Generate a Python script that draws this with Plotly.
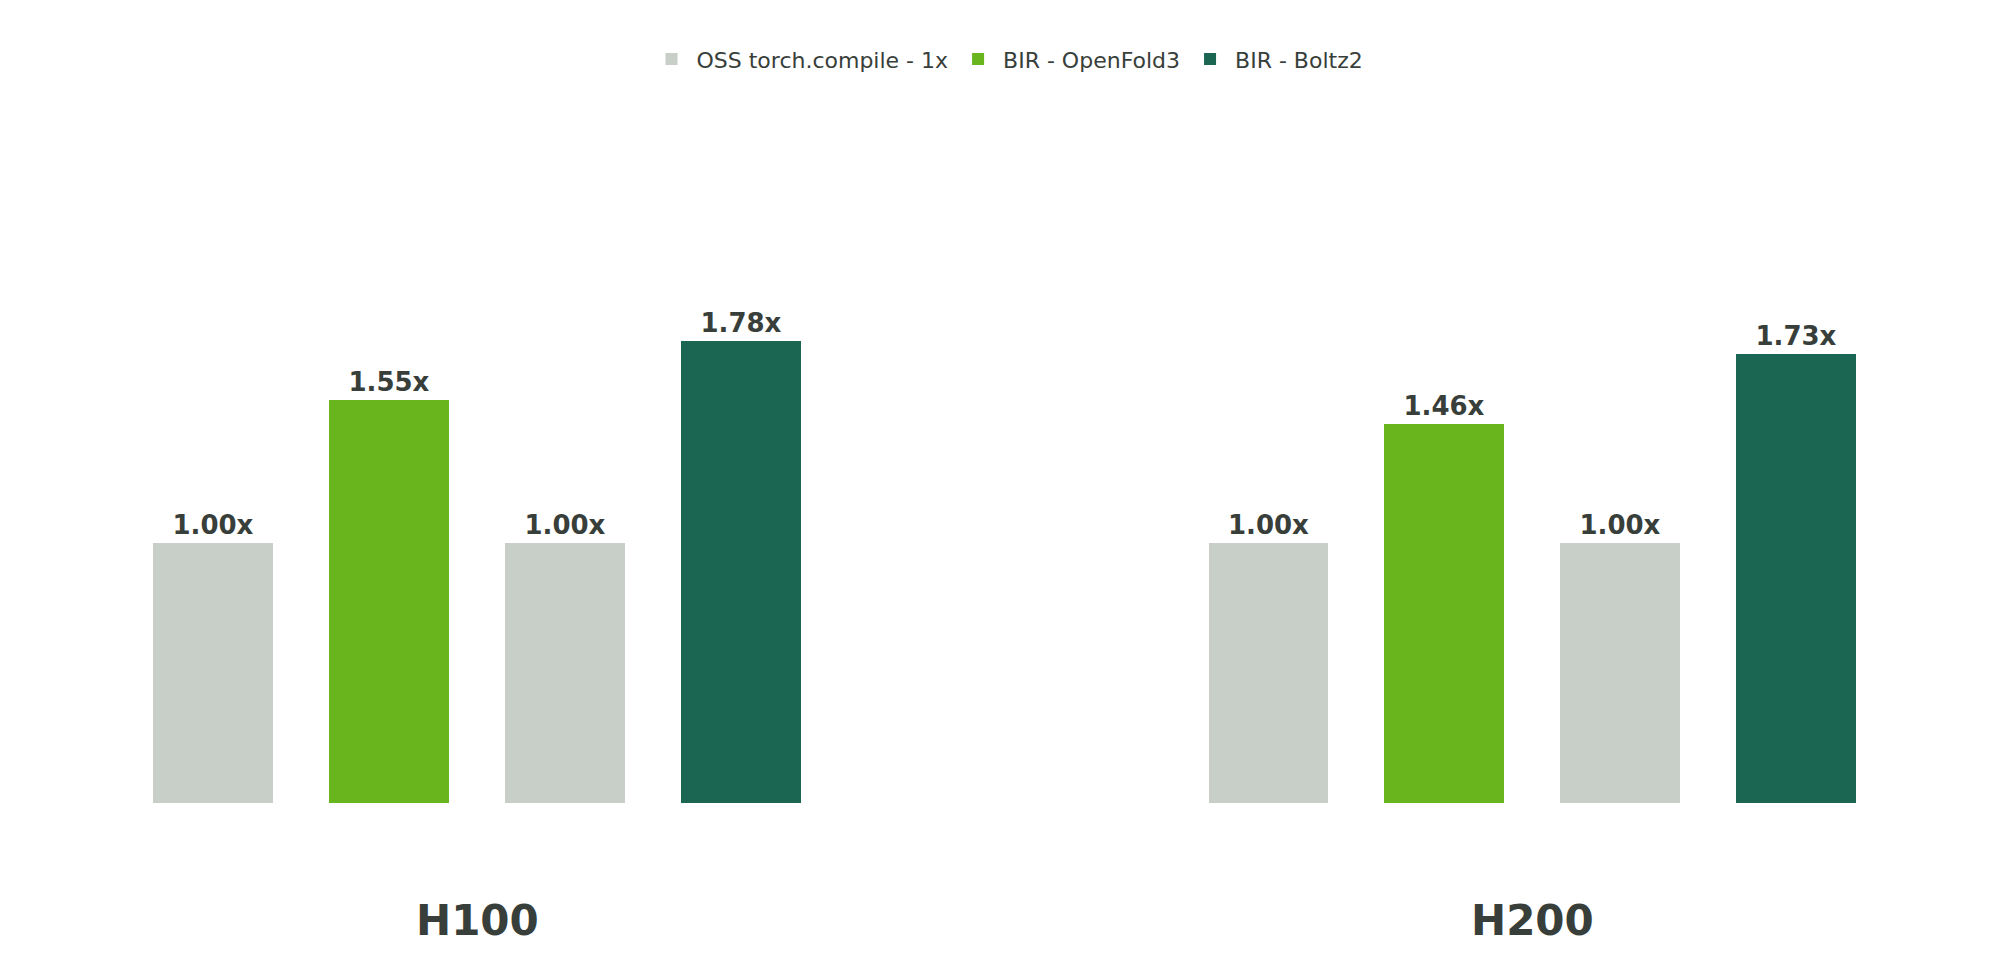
import plotly.graph_objects as go

gpus = ["H100", "H200"]
series = ["OSS torch.compile - 1x", "BIR - OpenFold3", "BIR - Boltz2"]
baseline = [1.00, 1.00, 1.00, 1.00]   # two baseline bars per GPU
openfold3 = [1.55, 1.46]
boltz2 = [1.78, 1.73]

colors = ["#c8cfc8", "#69b51e", "#1b6652"]
txt = "#383e3a"

# slot positions: 4 bars per gpu, gap of 2 slots between groups
base_x = [0, 2, 6, 8]
of3_x = [1, 7]
boltz_x = [3, 9]
group_center = [1.5, 7.5]

fig = go.Figure()
for name, xs, ys, c in [(series[0], base_x, baseline, colors[0]),
                        (series[1], of3_x, openfold3, colors[1]),
                        (series[2], boltz_x, boltz2, colors[2])]:
    fig.add_trace(go.Bar(
        x=xs, y=ys, name=name, marker=dict(color=c, line=dict(width=0)),
        width=0.68, text=[f"{v:.2f}x" for v in ys], textposition="outside",
        textfont=dict(size=26, color=txt, family="DejaVu Sans"),
        texttemplate="<b>%{text}</b>", cliponaxis=False,
    ))

for g, cx in zip(gpus, group_center):
    fig.add_annotation(x=cx, y=-0.45, text=f"<b>{g}</b>", showarrow=False,
                       font=dict(size=42, color=txt, family="DejaVu Sans"))

fig.update_layout(
    width=1999, height=966,
    margin=dict(l=0, r=0, t=0, b=0),
    plot_bgcolor="white", paper_bgcolor="white",
    barmode="overlay", bargap=0,
    showlegend=True,
    legend=dict(orientation="h", x=0.5, xanchor="center", y=0.947, yanchor="middle",
                font=dict(size=22, color=txt, family="DejaVu Sans"),
                itemwidth=40, traceorder="normal"),
    xaxis=dict(range=[-1.167, 10.2], visible=False),
    yaxis=dict(range=[-0.657, 3.06], visible=False),
    font=dict(family="DejaVu Sans"),
)

fig.write_html("out.html")
